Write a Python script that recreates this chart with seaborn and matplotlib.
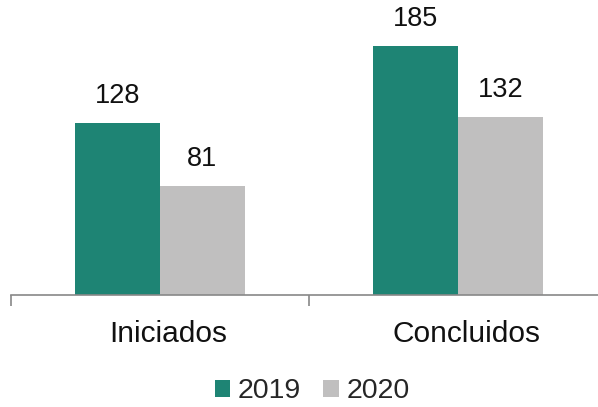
import matplotlib
matplotlib.use("Agg")
import matplotlib.pyplot as plt
import matplotlib.transforms as mtransforms
import seaborn as sns
import pandas as pd

categories = ["Iniciados", "Concluidos"]
years = ["2019", "2020"]
values_2019 = [128, 185]
values_2020 = [81, 132]

df = pd.DataFrame({
    "cat": categories * 2,
    "year": [years[0]] * 2 + [years[1]] * 2,
    "val": values_2019 + values_2020,
})

sns.set_style("white")
plt.rcParams["font.family"] = ["Liberation Sans", "DejaVu Sans"]

fig = plt.figure(figsize=(5.98, 4.07), dpi=100)
ax = fig.add_axes([11 / 598, (407 - 295) / 407, 596 / 598, 295 / 407])

palette = {"2019": "#1e8474", "2020": "#c0bfbf"}
sns.barplot(data=df, x="cat", y="val", hue="year", order=categories,
            hue_order=years, palette=palette, width=0.57, ax=ax,
            saturation=1, legend=True, linewidth=0)

ax.set_xlim(-0.5, 1.5)
ax.set_ylim(0, 219)
for c in ax.containers:
    ax.bar_label(c, labels=[f"{v:.0f}" for v in c.datavalues], padding=10,
                 fontsize=19.5, color="#111111")

for s in ["top", "right", "left"]:
    ax.spines[s].set_visible(False)
ax.spines["bottom"].set_color("#888888")
ax.spines["bottom"].set_linewidth(1.2)
ax.set_yticks([])
ax.set_xticks([-0.5, 0.5, 1.5], minor=False)
ax.set_xticklabels(["", "", ""])
ax.set_xticks([0, 1], minor=True)
ax.set_xticklabels(categories, minor=True, fontsize=21.5, color="#111111")
ax.tick_params(axis="x", which="major", direction="out", length=8, width=1.2,
               color="#888888", bottom=True)
ax.tick_params(axis="x", which="minor", length=0, pad=18)
shift = mtransforms.ScaledTranslation(8 / 100, 0, fig.dpi_scale_trans)
for lbl in ax.get_xticklabels(minor=True):
    lbl.set_transform(lbl.get_transform() + shift)
ax.set_xlabel("")
ax.set_ylabel("")

ax.legend(loc="upper center", bbox_to_anchor=(301 / 596, -0.195), ncol=2,
          frameon=False, fontsize=20.5, handlelength=0.55, handleheight=0.55,
          handletextpad=0.25, columnspacing=0.8)

fig.savefig("out.png", dpi=100)
